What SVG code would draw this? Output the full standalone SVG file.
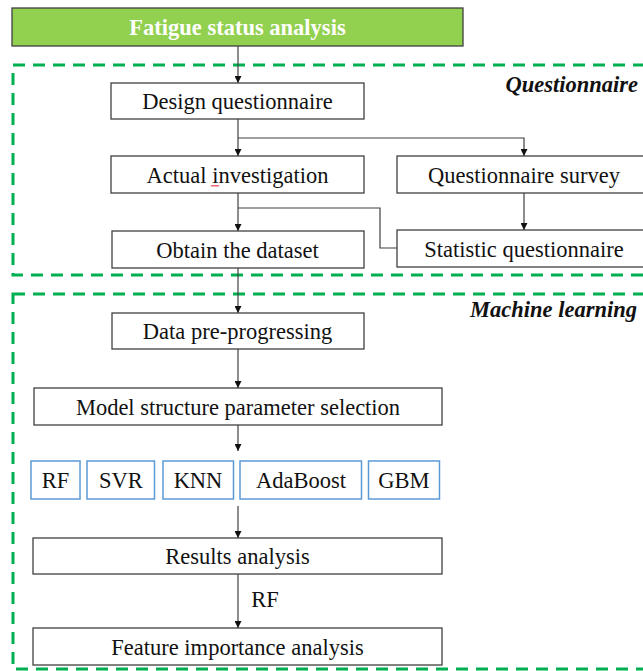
<svg xmlns="http://www.w3.org/2000/svg" width="643" height="671" viewBox="0 0 643 671">
<defs>
<style>
.box{fill:#fff;stroke:#404040;stroke-width:1.3}
.alg{fill:#fff;stroke:#5B9BD5;stroke-width:1.5}
.t{font-family:"Liberation Serif","Times New Roman",serif;font-size:22.5px;fill:#111;text-anchor:middle}
.lbl{font-family:"Liberation Serif","Times New Roman",serif;font-size:22.5px;font-weight:bold;font-style:italic;fill:#111;text-anchor:end}
.ln{fill:none;stroke:#404040;stroke-width:1.2}
.dash{fill:none;stroke:#00B050;stroke-width:3;stroke-dasharray:12 8}
</style>
<marker id="ah" viewBox="0 0 10 10" refX="10" refY="5" markerWidth="7" markerHeight="7" markerUnits="userSpaceOnUse" orient="auto">
<path d="M0,0 L10,5 L0,10 Z" fill="#111"/>
</marker>
</defs>
<rect width="643" height="671" fill="#fff"/>

<g id="group-questionnaire">
<rect class="dash" x="13" y="65" width="660" height="210"/>
<text class="lbl" x="638" y="92">Questionnaire</text>
</g>
<g id="group-ml">
<rect class="dash" x="13" y="294" width="660" height="375"/>
<text class="lbl" x="637" y="317">Machine learning</text>
</g>

<g id="connectors">
<path class="ln" d="M238,46 V83" marker-end="url(#ah)"/>
<path class="ln" d="M238,119 V156" marker-end="url(#ah)"/>
<path class="ln" d="M238,138 H524 V156" marker-end="url(#ah)"/>
<path class="ln" d="M238,193 V231" marker-end="url(#ah)"/>
<path class="ln" d="M238,208 H380 V248 H397"/>
<path class="ln" d="M524,193 V230" marker-end="url(#ah)"/>
<path class="ln" d="M238,268 V313" marker-end="url(#ah)"/>
<path class="ln" d="M238,349 V388" marker-end="url(#ah)"/>
<path class="ln" d="M238,425 V451" marker-end="url(#ah)"/>
<path class="ln" d="M238,506 V538" marker-end="url(#ah)"/>
<path class="ln" d="M238,574 V628" marker-end="url(#ah)"/>
<text class="t" x="265" y="607">RF</text>
</g>

<g id="title">
<rect x="12" y="8" width="451" height="38" fill="#92D050" stroke="#404040" stroke-width="1.3"/>
<text class="t" x="237.5" y="35" style="fill:#fff;font-weight:bold">Fatigue status analysis</text>
</g>
<g id="design">
<rect class="box" x="111" y="83" width="253" height="36"/>
<text class="t" x="237.5" y="109">Design questionnaire</text>
</g>
<g id="actual">
<rect class="box" x="111" y="156" width="253" height="37"/>
<text class="t" x="237.5" y="182.5">Actual investigation</text>
<path d="M211,185 l1,1.5 l1,-1.5 l1,1.5 l1,-1.5 l1,1.5 l1,-1.5 l1,1.5 l1,-1.5" fill="none" stroke="#e03030" stroke-width="0.8"/>
</g>
<g id="survey">
<rect class="box" x="397" y="156" width="254" height="37"/>
<text class="t" x="524" y="182.5">Questionnaire survey</text>
</g>
<g id="obtain">
<rect class="box" x="112" y="231" width="252" height="37"/>
<text class="t" x="237.5" y="257.5">Obtain the dataset</text>
</g>
<g id="statistic">
<rect class="box" x="397" y="230" width="254" height="37"/>
<text class="t" x="524" y="256.5">Statistic questionnaire</text>
</g>
<g id="datapre">
<rect class="box" x="112" y="313" width="252" height="36"/>
<text class="t" x="237.5" y="339">Data pre-progressing</text>
</g>
<g id="model">
<rect class="box" x="34" y="388" width="408" height="37"/>
<text class="t" x="238" y="414.5">Model structure parameter selection</text>
</g>
<g id="rf">
<rect class="alg" x="31" y="461" width="49" height="38"/>
<text class="t" x="55.5" y="488">RF</text>
</g>
<g id="svr">
<rect class="alg" x="87" y="461" width="67.5" height="38"/>
<text class="t" x="121" y="488">SVR</text>
</g>
<g id="knn">
<rect class="alg" x="163" y="461" width="70.5" height="38"/>
<text class="t" x="198" y="488">KNN</text>
</g>
<g id="adaboost">
<rect class="alg" x="240" y="461" width="121.5" height="38"/>
<text class="t" x="301" y="488">AdaBoost</text>
</g>
<g id="gbm">
<rect class="alg" x="368.5" y="461" width="71" height="38"/>
<text class="t" x="404" y="488">GBM</text>
</g>
<g id="results">
<rect class="box" x="33" y="538" width="409" height="36"/>
<text class="t" x="237.5" y="564">Results analysis</text>
</g>
<g id="feature">
<rect class="box" x="33" y="628" width="409" height="37"/>
<text class="t" x="237.5" y="654.5">Feature importance analysis</text>
</g>
</svg>
